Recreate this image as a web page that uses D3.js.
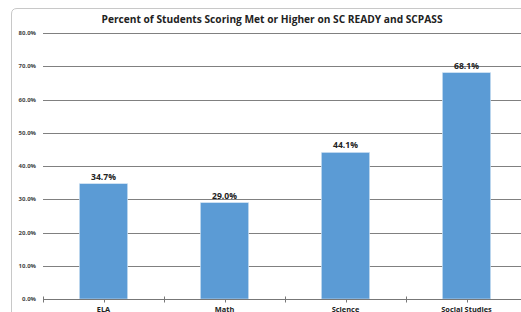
<!DOCTYPE html>
<html>
<head>
<meta charset="utf-8">
<script src="https://cdn.jsdelivr.net/npm/d3@7"></script>
<style>
	body { margin: 0; background: #fff; }
	svg { display: block; }
</style>
</head>
<body>
<svg id="chart" width="521" height="312"></svg>
<script>

var subjects = [ "ELA", "Math", "Science", "Social Studies" ];
var pctMet = [ 34.7, 29.0, 44.1, 68.1 ];
var yTicks = [ 0, 10, 20, 30, 40, 50, 60, 70, 80 ];
var title = "Percent of Students Scoring Met or Higher on SC READY and SCPASS";

var svg = d3.select("#chart");
var [ mT, mR, mB, mL ] = [ 33, -6, 13, 43 ];		// plot runs past the right edge like the screenshot
var width = 521, height = 312;

// chart frame (only left and top visible)
svg.append("path")
	.attr("d", "M11.5,312 L11.5,14 Q11.5,8.5 17,8.5 L521,8.5")
	.attr("fill", "none")
	.attr("stroke", "#c8c8c8")
	.attr("stroke-width", 1);

var x = d3.scaleBand()
	.domain(subjects)
	.range([ mL, width - mR ])
	.paddingInner(0.6)
	.paddingOuter(0.3);

var y = d3.scaleLinear([ 0, 80 ], [ height - mB, mT ]);

// gridlines
svg.append("g")
	.selectAll("line")
	.data(yTicks.filter(d => d > 0))
	.join("line")
	.attr("x1", mL)
	.attr("x2", width)
	.attr("y1", d => Math.round(y(d)) + 0.5)
	.attr("y2", d => Math.round(y(d)) + 0.5)
	.attr("stroke", "#808080")
	.attr("stroke-width", 1);

// y labels
svg.append("g")
	.selectAll("text")
	.data(yTicks)
	.join("text")
	.attr("x", 36)
	.attr("y", d => y(d))
	.attr("dy", "0.35em")
	.attr("text-anchor", "end")
	.attr("font-family", "'Open Sans', sans-serif")
	.attr("font-weight", "bold")
	.attr("font-size", "6px")
	.attr("fill", "#444")
	.text(d => d.toFixed(1) + "%");

// bars
svg.append("g")
	.selectAll("rect")
	.data(pctMet)
	.join("rect")
	.attr("x", (d, i) => x(subjects[i]))
	.attr("y", d => y(d))
	.attr("width", x.bandwidth())
	.attr("height", d => y(0) - y(d))
	.attr("fill", "#5b9bd5")
	.attr("stroke", "#dbe8f5")
	.attr("stroke-width", 0.6);

// value labels
svg.append("g")
	.selectAll("text")
	.data(pctMet)
	.join("text")
	.attr("x", (d, i) => x(subjects[i]) + x.bandwidth() / 2)
	.attr("y", d => y(d) - 4)
	.attr("text-anchor", "middle")
	.attr("font-family", "'Open Sans', sans-serif")
	.attr("font-weight", "bold")
	.attr("font-size", "8.6px")
	.attr("fill", "#222")
	.text(d => d.toFixed(1) + "%");

// x axis
var step = x.step();
var xAxis = svg.append("g")
	.attr("transform", `translate(0, ${Math.round(y(0)) + 0.5})`);

xAxis.append("line")
	.attr("x1", mL)
	.attr("x2", width)
	.attr("stroke", "#777")
	.attr("stroke-width", 1);

var bounds = subjects.map((s, i) => mL + i * step).concat([ mL + subjects.length * step ]);
xAxis.selectAll(".bnd")
	.data(bounds)
	.join("line")
	.attr("class", "bnd")
	.attr("x1", d => Math.round(d) + 0.5)
	.attr("x2", d => Math.round(d) + 0.5)
	.attr("y1", -3)
	.attr("y2", 3)
	.attr("stroke", "#777");

xAxis.selectAll(".ctr")
	.data(subjects)
	.join("line")
	.attr("class", "ctr")
	.attr("x1", d => Math.round(x(d) + x.bandwidth() / 2) + 0.5)
	.attr("x2", d => Math.round(x(d) + x.bandwidth() / 2) + 0.5)
	.attr("y1", 0)
	.attr("y2", 3)
	.attr("stroke", "#777");

xAxis.selectAll("text")
	.data(subjects)
	.join("text")
	.attr("x", d => x(d) + x.bandwidth() / 2)
	.attr("y", 12)
	.attr("text-anchor", "middle")
	.attr("font-family", "'Open Sans', sans-serif")
	.attr("font-weight", "bold")
	.attr("font-size", "7.4px")
	.attr("fill", "#222")
	.text(d => d);

// title
svg.append("text")
	.attr("x", 272)
	.attr("y", 22.5)
	.attr("text-anchor", "middle")
	.attr("font-family", "'Open Sans', sans-serif")
	.attr("font-weight", "bold")
	.attr("font-size", "10.2px")
	.attr("fill", "#222")
	.text(title);

</script>
</body>
</html>
